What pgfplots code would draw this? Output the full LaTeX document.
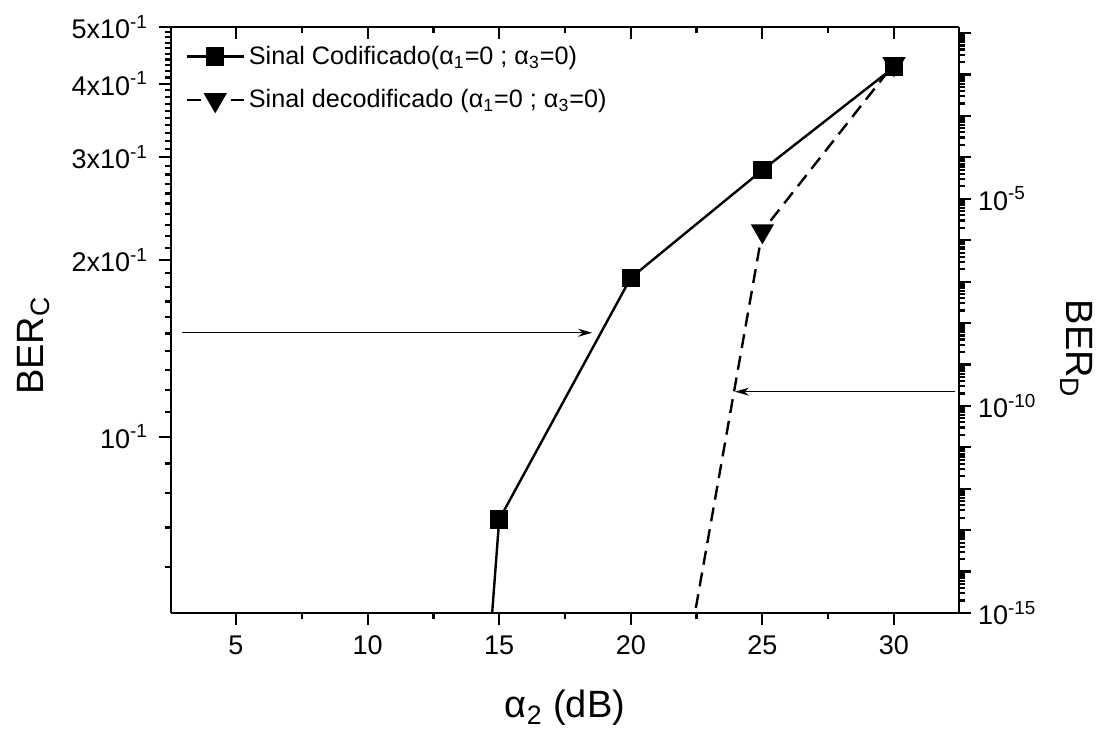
\documentclass[border=0pt]{standalone}
\usepackage{pgfplots}
\pgfplotsset{compat=1.18}
\usepackage{fontspec}
\setmainfont{Liberation Sans}
\usetikzlibrary{arrows.meta}
\def\myminor{1e-15}
\foreach \e in {-15,...,-2}{\foreach \m in {2,...,9}{\xdef\myminor{\myminor,\m e\e}}}
\pgfplotsset{
  common/.style={
    scale only axis, width=394pt, height=293pt,
    xmin=2.53, xmax=32.47,
    axis line style={line width=1.3pt},
    every tick/.style={black, line width=1.1pt},
    major tick length=6pt, minor tick length=3pt,
    tick label style={font=\fontsize{13.5}{15}\selectfont},
    /pgf/number format/assume math mode=true,
    label style={font=\fontsize{19}{22}\selectfont},
  }
}
\begin{document}
\begin{tikzpicture}
\useasboundingbox (-85.5pt,-58pt) rectangle (466.5pt,306.5pt);
% left axis + bottom x axis
\begin{axis}[common,
  ymode=log, ymin=0.05, ymax=0.5,
  axis x line*=bottom, axis y line*=left,
  tick align=outside,
  xtick={5,10,15,20,25,30},
  minor xtick={7.5,12.5,17.5,22.5,27.5},
  xticklabel style={yshift=-2pt},
  yticklabel style={xshift=-2pt},
  ytick={0.1,0.2,0.3,0.4,0.5},
  yticklabels={10\textsuperscript{-1},2x10\textsuperscript{-1},3x10\textsuperscript{-1},4x10\textsuperscript{-1},5x10\textsuperscript{-1}},
  minor ytick={0.06,0.07,0.08,0.09,0.11,0.12,0.13,0.14,0.15,0.16,0.17,0.18,0.19,0.21,0.22,0.23,0.24,0.25,0.26,0.27,0.28,0.29,0.31,0.32,0.33,0.34,0.35,0.36,0.37,0.38,0.39,0.41,0.42,0.43,0.44,0.45,0.46,0.47,0.48,0.49},
  xlabel={α\textsubscript{2} (dB)},
  ylabel={BER\textsubscript{C}},
  xlabel style={at={(axis description cs:0.5,-0.179)}, anchor=base},
  ylabel style={at={(axis description cs:-0.1624,0.456)}, anchor=base},
]
\addplot[black, line width=1.2pt, mark=square*, mark size=4pt]
  coordinates {(10,7.5e-5) (15,0.0722) (20,0.1866) (25,0.285) (30,0.427)};
\draw[line width=0.6pt, -{Stealth[length=7pt,width=4pt]}] (axis cs:2.95,0.1504) -- (axis cs:18.53,0.1504);
\draw[line width=0.6pt, -{Stealth[length=7pt,width=4pt]}] (axis cs:32.32,0.1193) -- (axis cs:23.96,0.1193);
\end{axis}
% top x axis ticks (inside)
\begin{axis}[common,
  ymin=0, ymax=1,
  axis x line*=top, axis y line=none,
  tick align=inside,
  xtick={5,10,15,20,25,30},
  minor xtick={7.5,12.5,17.5,22.5,27.5},
  xticklabels={},
]
\end{axis}
% right axis
\begin{axis}[common,
  ymode=log, ymin=1e-15, ymax=0.14,
  axis y line*=right, axis x line=none,
  tick align=outside,
  ytick={1e-15,1e-14,1e-13,1e-12,1e-11,1e-10,1e-9,1e-8,1e-7,1e-6,1e-5,1e-4,1e-3,1e-2,1e-1},
  yticklabels={10\textsuperscript{-15},,,,,10\textsuperscript{-10},,,,,10\textsuperscript{-5},,,,},
  minor ytick/.expand once=\myminor,
  ylabel={BER\textsubscript{D}},
  ylabel style={at={(axis description cs:1.137,0.4505)}, anchor=base, rotate=180},
  legend style={at={(axis description cs:0.018,0.975)}, anchor=north west, draw=none, fill=none,
    font=\fontsize{12.6}{15}\selectfont, row sep=7pt, inner sep=0pt},
  legend cell align=left,
  legend image code/.code={\draw[mark repeat=2,mark phase=2,#1] plot coordinates {(0cm,0cm) (0.5cm,0cm) (1cm,0cm)};},
]
\addlegendimage{black, line width=1.2pt, mark=square*, mark size=4pt}
\addlegendentry{Sinal Codificado(α\textsubscript{1}=0 ; α\textsubscript{3}=0)}
\addplot[black, line width=1.2pt, dash pattern=on 7pt off 4pt, mark=triangle*, mark size=5.5pt, mark options={solid, rotate=180}]
  coordinates {(20,1.7e-24) (25,1.66e-6) (30,0.018)};
\addlegendentry{Sinal decodificado (α\textsubscript{1}=0 ; α\textsubscript{3}=0)}
\end{axis}
\end{tikzpicture}
\end{document}
